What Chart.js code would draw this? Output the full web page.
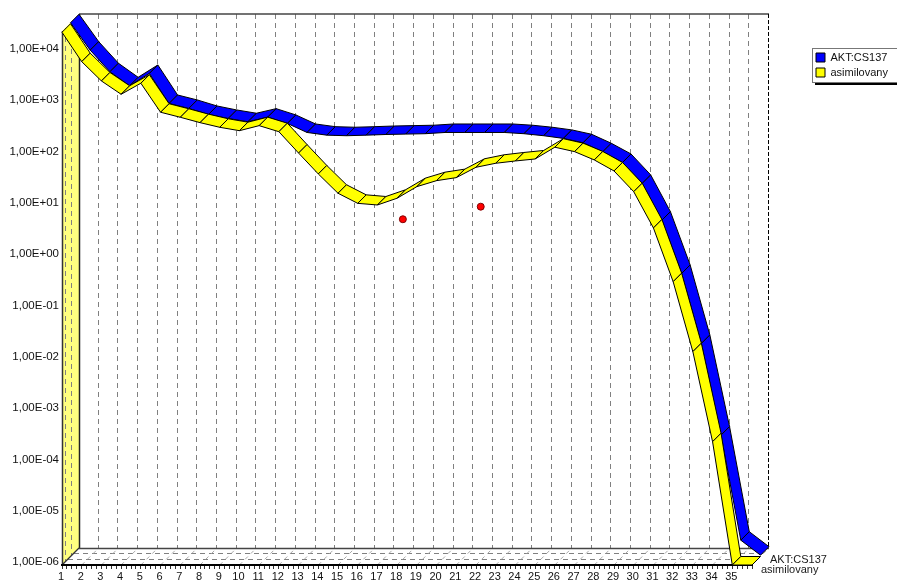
<!DOCTYPE html>
<html>
<head>
<meta charset="utf-8">
<style>html,body{margin:0;padding:0;background:#fff;overflow:hidden}canvas{display:block}</style>
<script src="https://cdn.jsdelivr.net/npm/chart.js@4"></script>
</head>
<body>
<canvas id="c" width="897" height="583"></canvas>
<script>
const seriesNames = ['AKT:CS137', 'asimilovany'];
const xLabels = [1,2,3,4,5,6,7,8,9,10,11,12,13,14,15,16,17,18,19,20,21,22,23,24,25,26,27,28,29,30,31,32,33,34,35];
const xPositions = [1,2,3,4,5,6,7,8,9,10,11,12,13,14,15,16,17,18,19,20,21,22,23,24,25,26,27,28,29,30,31,32,33,34,35,36];
const yTickValues = [1e4,1e3,1e2,1e1,1e0,1e-1,1e-2,1e-3,1e-4,1e-5,1e-6];
const yTickLabels = ['1,00E+04','1,00E+03','1,00E+02','1,00E+01','1,00E+00','1,00E-01','1,00E-02','1,00E-03','1,00E-04','1,00E-05','1,00E-06'];
const aktValues = [25300,7400,2810,1496,2600,676,541,413,345,298,366,276,184,163,159,163,168,171,174,184,184,184,184,174,159,141,116,77.4,47.9,18.7,3.6,0.329,0.0142,2.32e-4,2.08e-6,1.06e-6];
const asimValues = [24200,6470,2720,1496,2455,668,533,419,340,292,366,279,107,41.9,17.6,11.2,10.4,14.1,23.7,31,35.5,56.5,67.6,75,82,139,114,78.5,47.9,18.9,3.71,0.333,0.0144,2.53e-4,1e-6,1e-6];
const obsX = [18.29,22.24];
const obsY = [5.48,9.64];

const FONT = 'Liberation Sans';
const DEPTH = 17;
const MID = 8.5;

function pairs(xs, ys){ return ys.map((y,i)=>({x:xs[i],y})); }

function strokePath(ctx, pts, color, width, dash){
  ctx.save();
  ctx.strokeStyle = color; ctx.lineWidth = width; ctx.setLineDash(dash||[]);
  ctx.beginPath();
  pts.forEach((p,i)=> i ? ctx.lineTo(p[0],p[1]) : ctx.moveTo(p[0],p[1]));
  ctx.stroke();
  ctx.restore();
}

function ribbon(ctx, meta, z0, z1, color){
  const d = meta.data;
  ctx.save();
  ctx.fillStyle = color; ctx.strokeStyle = '#000'; ctx.lineWidth = 1; ctx.lineJoin='miter';
  for(let i=0;i<d.length-1;i++){
    const a=d[i], b=d[i+1];
    ctx.beginPath();
    ctx.moveTo(a.x+z0,a.y-z0);
    ctx.lineTo(b.x+z0,b.y-z0);
    ctx.lineTo(b.x+z1,b.y-z1);
    ctx.lineTo(a.x+z1,a.y-z1);
    ctx.closePath();
    ctx.fill();
    ctx.stroke();
  }
  ctx.restore();
}

const scene = {
  id:'scene',
  afterLayout(chart){
    const l = chart.legend;
    l.left=812; l.right=897; l.top=48; l.bottom=140; l.width=85; l.height=92;
  },
  beforeDraw(chart){
    const ctx = chart.ctx, a = chart.chartArea, X = chart.scales.x;
    const L=a.left, R=a.right, T=a.top, B=a.bottom;
    ctx.save();
    ctx.fillStyle='#FFFF80';
    ctx.beginPath();
    ctx.moveTo(L,T);ctx.lineTo(L+DEPTH,T-DEPTH);ctx.lineTo(L+DEPTH,B-DEPTH);ctx.lineTo(L,B);ctx.closePath();
    ctx.fill();
    ctx.restore();
    const GR='#808080', DASH=[5,4];
    [3,9].forEach(z=>strokePath(ctx,[[L+z+.5,T-z],[L+z+.5,B-z]],GR,1,DASH));
    [6,12].forEach(z=>strokePath(ctx,[[L+z,B-z+.5],[R+z,B-z+.5]],GR,1,DASH));
    xPositions.forEach(v=>{
      const x=X.getPixelForValue(v);
      strokePath(ctx,[[x,B],[x+DEPTH,B-DEPTH]],'#aaa',1,[4,4]);
    });
    xLabels.slice(1).forEach(v=>{
      const x=Math.round(X.getPixelForValue(v)+DEPTH)-.5;
      strokePath(ctx,[[x,T-DEPTH],[x,B-DEPTH]],GR,1,DASH);
    });
    const bx=L+DEPTH, by=B-DEPTH, ty=T-DEPTH;
    strokePath(ctx,[[L+.5,T],[L+.5,B]],'#333',1.5);
    strokePath(ctx,[[bx+.5,ty],[bx+.5,by]],'#222',1.5);
    strokePath(ctx,[[bx,ty],[R+DEPTH,ty]],'#444',1.6);
    strokePath(ctx,[[bx,by+.5],[R+DEPTH,by+.5]],'#444',1.6);
    strokePath(ctx,[[L,B],[bx,by]],'#333',1.2);
    strokePath(ctx,[[R+DEPTH-.5,ty],[R+DEPTH-.5,by]],'#000',1,[4,2]);
    ctx.save();
    ctx.fillStyle='#000'; ctx.fillRect(815,82,85,3);
    ctx.fillStyle='#fff'; ctx.strokeStyle='#777'; ctx.lineWidth=1;
    ctx.fillRect(812.5,48.5,90,34); ctx.strokeRect(812.5,48.5,90,34);
    ctx.restore();
  },
  beforeDatasetsDraw(chart){
    const ctx = chart.ctx;
    ribbon(ctx, chart.getDatasetMeta(0), MID, DEPTH, chart.data.datasets[0].backgroundColor);
    ribbon(ctx, chart.getDatasetMeta(1), 0, MID, chart.data.datasets[1].backgroundColor);
  },
  afterDraw(chart){
    const ctx = chart.ctx, a = chart.chartArea;
    ctx.save();
    ctx.font = '11px "'+FONT+'"'; ctx.fillStyle='#1a1a1a'; ctx.textBaseline='middle'; ctx.textAlign='left';
    ctx.fillText(seriesNames[0], a.right+18, a.bottom-5);
    ctx.fillText(seriesNames[1], a.right+9, a.bottom+5);
    ctx.restore();
  }
};

const minorTicks = [];
xPositions.forEach(v=>{ [0,.25,.5,.75].forEach(f=>{ if(v+f<=36) minorTicks.push({value:v+f}); }); });

new Chart(document.getElementById('c'),{
  type:'line',
  data:{datasets:[
    {label:seriesNames[0],data:pairs(xPositions,aktValues),backgroundColor:'#0000FF',borderColor:'#000',borderWidth:1,showLine:false,pointRadius:0,pointHoverRadius:0},
    {label:seriesNames[1],data:pairs(xPositions,asimValues),backgroundColor:'#FFFF00',borderColor:'#000',borderWidth:1,showLine:false,pointRadius:0,pointHoverRadius:0},
    {label:'',data:pairs(obsX,obsY),showLine:false,pointRadius:3.5,pointBackgroundColor:'#FF0000',pointBorderColor:'#800000',pointBorderWidth:1,backgroundColor:'#FF0000',borderColor:'#800000'}
  ]},
  options:{
    responsive:false,animation:false,
    layout:{padding:{left:0,right:145,top:31,bottom:0}},
    plugins:{
      title:{display:false},tooltip:{enabled:false},
      legend:{display:true,position:'chartArea',align:'start',
        labels:{boxWidth:9,boxHeight:9,padding:4,color:'#111',font:{family:FONT,size:11},
          filter:i=>i.text!==''}}
    },
    scales:{
      x:{type:'linear',min:1,max:36,
        afterBuildTicks:s=>{s.ticks=minorTicks.map(t=>({value:t.value}));},
        afterFit:s=>{s.height=18;},
        grid:{display:true,drawOnChartArea:false,drawTicks:true,tickLength:4,tickColor:'#333',tickWidth:1},
        border:{display:true,color:'#000',width:2},
        ticks:{autoSkip:false,maxRotation:0,minRotation:0,padding:1,color:'#111',labelOffset:-1,font:{family:FONT,size:11},
          callback:v=>xLabels.includes(v)?String(v):''}},
      y:{type:'logarithmic',min:1e-6,max:25600,
        afterBuildTicks:s=>{s.ticks=yTickValues.map(v=>({value:v}));},
        afterFit:s=>{s.width=62;},
        grid:{display:false,drawTicks:false},
        border:{display:false},
        ticks:{autoSkip:false,padding:3,color:'#111',labelOffset:-3,font:{family:FONT,size:11.5},
          callback:v=>{const i=yTickValues.indexOf(v);return i<0?'':yTickLabels[i];}}}
    }
  },
  plugins:[scene]
});
</script>
</body>
</html>
